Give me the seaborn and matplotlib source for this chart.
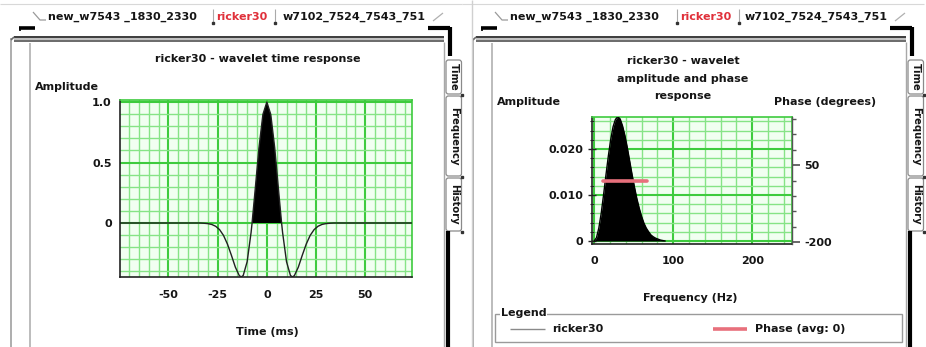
import matplotlib
matplotlib.use("Agg")
import matplotlib.pyplot as plt
import seaborn as sns
import pandas as pd
from matplotlib.patches import FancyBboxPatch, Rectangle
from matplotlib.ticker import MultipleLocator, FixedLocator, FixedFormatter

# ---------------- data ----------------
time_ms = [-74.6, -34, -32, -30, -28, -26, -24, -22, -20, -18, -16, -14, -13, -12,
           -10, -8, -7.5, -6, -4, -2, 0, 2, 4, 6, 7.5, 8, 10, 12, 13, 14, 16, 18,
           20, 22, 24, 26, 28, 30, 32, 34, 73.6]
time_amp = [0, 0, -0.002, -0.005, -0.012, -0.027, -0.055, -0.103, -0.175, -0.267,
            -0.365, -0.435, -0.446, -0.434, -0.320, -0.078, 0, 0.262, 0.621, 0.897,
            1.0, 0.897, 0.621, 0.262, 0, -0.078, -0.320, -0.434, -0.446, -0.435,
            -0.365, -0.267, -0.175, -0.103, -0.055, -0.027, -0.012, -0.005, -0.002,
            0, 0]

freq_hz = [0, 3, 6, 9, 12, 15, 18, 21, 24, 27, 30, 33, 36, 39, 42, 45, 48, 51, 54,
           57, 60, 63, 66, 69, 72, 75, 78, 81, 84, 87, 90]
freq_amp = [0, 0.0007, 0.0028, 0.0060, 0.0100, 0.0143, 0.0184, 0.0220, 0.0248,
            0.0264, 0.0270, 0.0265, 0.0250, 0.0229, 0.0203, 0.0174, 0.0145, 0.0118,
            0.0093, 0.0072, 0.0054, 0.0039, 0.0028, 0.0020, 0.0013, 0.0009, 0.0006,
            0.0004, 0.0002, 0.0001, 0]

phase_hz = [11, 20, 30, 40, 50, 60, 67]
phase_deg = [0, 0, 0, 0, 0, 0, 0]

tabs_top = ["new_w7543 _1830_2330", "ricker30", "w7102_7524_7543_751"]
side_tabs = ["Time", "Frequency", "History"]
time_xticks = [-50, -25, 0, 25, 50]
time_yticks = [0, 0.5, 1.0]
time_ylabels = ["0", "0.5", "1.0"]
freq_xticks = [0, 100, 200]
freq_yticks = [0, 0.010, 0.020]
freq_ylabels = ["0", "0.010", "0.020"]
phase_ticks = [-200, 50]
phase_labels = ["-200", "50"]

# ---------------- style ----------------
sns.set_theme(style="white")
plt.rcParams["font.family"] = ["DejaVu Sans"]
plt.rcParams["font.weight"] = "bold"
plt.rcParams["axes.labelweight"] = "bold"
plt.rcParams["axes.unicode_minus"] = False

W, H = 926, 347
fig = plt.figure(figsize=(W / 100, H / 100), dpi=100)
fig.patch.set_facecolor("white")
bg = fig.add_axes([0, 0, 1, 1])
bg.set_xlim(0, W)
bg.set_ylim(H, 0)
bg.axis("off")

FS = 8
TXT = "#151515"


def px_axes(x0, y0, x1, y1):
    return fig.add_axes([x0 / W, 1 - y1 / H, (x1 - x0) / W, (y1 - y0) / H])


def L(xs, ys, **kw):
    bg.plot(xs, ys, solid_capstyle="butt", **kw)


def panel(dx, title_lines, title_x, title_y0, red_x):
    L([dx, dx + 462], [4, 4], color="#d8d8d8", lw=0.8)
    L([dx + 33, dx + 40, dx + 46], [12, 20, 20], color="#9a9a9a", lw=0.9)
    L([dx + 19, dx + 35], [27.5, 27.5], color="black", lw=2.6)
    L([dx + 19.5, dx + 19.5], [27, 31], color="black", lw=1.2)
    bg.text(dx + 48, 16.5, tabs_top[0], fontsize=FS, color=TXT, ha="left", va="center")
    bg.text(red_x, 17, tabs_top[1], fontsize=FS, color="#e0303a", ha="center", va="center")
    for sx in (red_x - 29, red_x + 33):
        L([sx, sx], [9, 23], color="#aaaaaa", lw=0.8)
        bg.plot([sx], [23], marker="s", ms=1.8, color="#333333")
    bg.text(dx + 283, 16.5, tabs_top[2], fontsize=FS, color=TXT, ha="left", va="center")
    L([dx + 433, dx + 443], [21, 13], color="#b0b0b0", lw=0.9)
    L([dx + 428, dx + 450], [28, 28], color="black", lw=3)
    L([dx + 450, dx + 450], [26.5, 56], color="black", lw=3)
    L([dx + 14, dx + 444], [37, 37], color="#3c3c3c", lw=1.4)
    L([dx + 14, dx + 444], [40.5, 40.5], color="#6a6a6a", lw=1.4)
    L([dx + 14, dx + 444], [38.8, 38.8], color="#b5b5b5", lw=1.2)
    L([dx + 11, dx + 11], [38, H], color="#a0a0a0", lw=1.2)
    L([dx + 14, dx + 11], [37, 40], color="#6a6a6a", lw=1.2)
    L([dx + 30, dx + 30], [43, H], color="#b0b0b0", lw=1.2)
    L([dx + 443.5, dx + 443.5], [42, H], color="#a8a8a8", lw=1.0)
    spans = [(60, 94), (96, 176), (178, 231)]
    for lab, (y0, y1) in zip(side_tabs, spans):
        p = FancyBboxPatch((dx + 446, y0), 15.5, y1 - y0,
                           boxstyle="round,pad=0,rounding_size=2.5",
                           fc="white", ec="#8a8a8a", lw=0.9)
        bg.add_patch(p)
        bg.text(dx + 454, (y0 + y1) / 2, lab, rotation=-90, fontsize=7.2,
                color=TXT, ha="center", va="center")
        bg.plot([dx + 461.5], [y1 + 1], marker="s", ms=1.6, color="#333333")
    L([dx + 448, dx + 448], [231, H], color="black", lw=3)
    for i, t in enumerate(title_lines):
        bg.text(title_x, title_y0 + 17.5 * i, t, fontsize=FS, color=TXT,
                ha="center", va="center")


panel(0, ["ricker30 - wavelet time response"], 258, 59, 242)
panel(462, ["ricker30 - wavelet", "amplitude and phase", "response"], 683, 61, 706)
L([472, 472], [0, H], color="#d0d0d0", lw=1.0)

bg.text(35, 87, "Amplitude", fontsize=FS, color=TXT, ha="left", va="center")
bg.text(267, 332, "Time (ms)", fontsize=FS, color=TXT, ha="center", va="center")
bg.text(497, 102, "Amplitude", fontsize=FS, color=TXT, ha="left", va="center")
bg.text(876, 102, "Phase (degrees)", fontsize=FS, color=TXT, ha="right", va="center")
bg.text(690, 298, "Frequency (Hz)", fontsize=FS, color=TXT, ha="center", va="center")

bg.add_patch(Rectangle((495, 314), 407, 28, fill=False, ec="#9a9a9a", lw=1.0))
bg.text(501, 313, "Legend", fontsize=FS, color=TXT, ha="left", va="center",
        bbox=dict(fc="white", ec="none", pad=0.6))
L([510, 545], [329, 329], color="#8a8a8a", lw=1.0)
bg.text(552, 329, tabs_top[1], fontsize=FS, color=TXT, ha="left", va="center")
L([713, 747], [329, 329], color="#e8707c", lw=2.6)
bg.text(755, 329, "Phase (avg: 0)", fontsize=FS, color=TXT, ha="left", va="center")

GMIN = "#86e486"
GMAJ = "#3ecb3e"
FACE = "#f1fff1"


def style_axes(ax):
    ax.set_facecolor(FACE)
    ax.set_axisbelow(True)
    ax.grid(which="minor", color=GMIN, lw=1.0)
    ax.grid(which="major", color=GMAJ, lw=1.5)
    for s in ("top", "right"):
        ax.spines[s].set_color(GMAJ)
        ax.spines[s].set_linewidth(1.2)
    for s in ("left", "bottom"):
        ax.spines[s].set_color("#222222")
        ax.spines[s].set_linewidth(1.2)
    ax.tick_params(which="both", direction="inout", colors="#222222",
                   labelsize=FS, labelcolor=TXT)
    ax.tick_params(which="major", length=6, width=1)
    ax.tick_params(which="minor", length=3, width=0.8)
    ax.tick_params(axis="x", pad=6)
    ax.tick_params(axis="y", pad=3)
    ax.set_xlabel("")
    ax.set_ylabel("")


# ---------------- time response ----------------
ax1 = px_axes(120, 100, 411.7, 277.3)
df_t = pd.DataFrame({"t": time_ms, "a": time_amp})
ax1.fill_between(df_t["t"], 0, df_t["a"], where=df_t["a"] >= 0,
                 interpolate=True, color="black", lw=0, zorder=3)
sns.lineplot(data=df_t, x="t", y="a", ax=ax1, color="#202020", lw=1.0,
             zorder=4, sort=False)
ax1.set_xlim(-74.6, 73.6)
ax1.set_ylim(-0.449, 1.017)
ax1.xaxis.set_major_locator(FixedLocator(time_xticks))
ax1.xaxis.set_minor_locator(MultipleLocator(5))
ax1.yaxis.set_major_locator(FixedLocator(time_yticks))
ax1.yaxis.set_major_formatter(FixedFormatter(time_ylabels))
ax1.yaxis.set_minor_locator(MultipleLocator(0.1))
style_axes(ax1)

# ---------------- amplitude / phase spectrum ----------------
ax2 = px_axes(591.7, 116.7, 791.7, 244)
df_f = pd.DataFrame({"f": freq_hz, "a": freq_amp})
ax2.fill_between(df_f["f"], 0, df_f["a"], color="black", lw=0, zorder=3)
sns.lineplot(data=df_f, x="f", y="a", ax=ax2, color="black", lw=1.0, zorder=4)
ax2.set_xlim(-3, 250)
ax2.set_ylim(-0.00065, 0.0270)
ax2.xaxis.set_major_locator(FixedLocator(freq_xticks))
ax2.xaxis.set_minor_locator(MultipleLocator(20))
ax2.yaxis.set_major_locator(FixedLocator(freq_yticks))
ax2.yaxis.set_major_formatter(FixedFormatter(freq_ylabels))
ax2.yaxis.set_minor_locator(MultipleLocator(0.002))
style_axes(ax2)

ax3 = ax2.twinx()
df_p = pd.DataFrame({"f": phase_hz, "p": phase_deg})
sns.lineplot(data=df_p, x="f", y="p", ax=ax3, color="#e8707c", lw=2.6, zorder=5)
ax3.set_ylim(-206.5, 207.5)
ax3.yaxis.set_major_locator(FixedLocator(phase_ticks))
ax3.yaxis.set_major_formatter(FixedFormatter(phase_labels))
ax3.yaxis.set_minor_locator(MultipleLocator(50))
ax3.grid(False)
for s in ("top", "left", "bottom"):
    ax3.spines[s].set_visible(False)
ax3.spines["right"].set_color("#555555")
ax3.spines["right"].set_linewidth(1.0)
ax3.tick_params(which="both", direction="out", colors="#555555",
                labelsize=FS, labelcolor=TXT, pad=3)
ax3.tick_params(which="major", length=6)
ax3.tick_params(which="minor", length=3)
ax3.set_ylabel("")
ax3.set_xlabel("")

fig.savefig("out.png", dpi=100, facecolor="white")
